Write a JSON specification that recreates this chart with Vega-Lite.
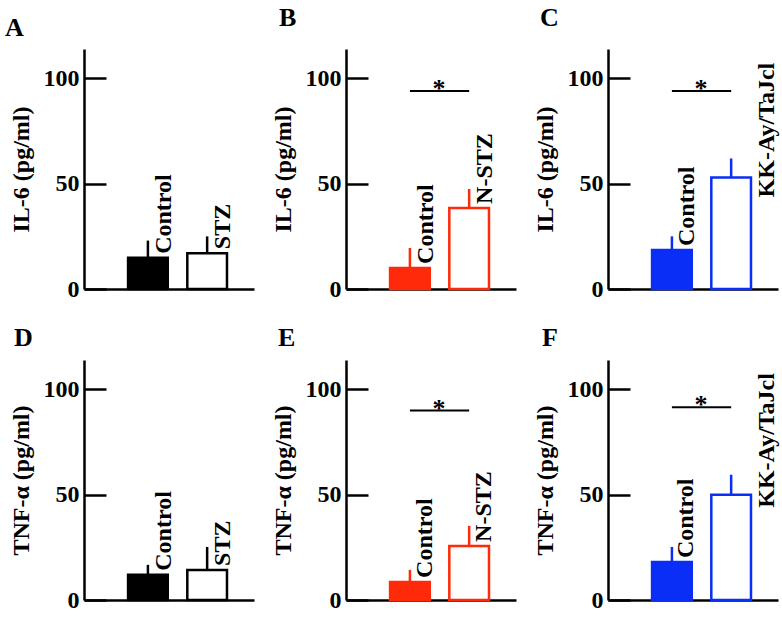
{
  "$schema": "https://vega.github.io/schema/vega-lite/v6.json",
  "padding": {"left": 5, "top": 5, "right": 5, "bottom": 5},
  "background": "white",
  "datasets": {
    "bars": [
      {"panel": "A", "group": "Control", "mean": 14.8, "hi": 23},
      {"panel": "A", "group": "STZ", "mean": 17, "hi": 25},
      {"panel": "B", "group": "Control", "mean": 10, "hi": 19.5},
      {"panel": "B", "group": "N-STZ", "mean": 38.5, "hi": 47.5},
      {"panel": "C", "group": "Control", "mean": 18.5, "hi": 25},
      {"panel": "C", "group": "KK-Ay/TaJcl", "mean": 53, "hi": 62},
      {"panel": "D", "group": "Control", "mean": 12, "hi": 16.7},
      {"panel": "D", "group": "STZ", "mean": 14.3, "hi": 25.2},
      {"panel": "E", "group": "Control", "mean": 8.6, "hi": 14.3},
      {"panel": "E", "group": "N-STZ", "mean": 25.7, "hi": 35.2},
      {"panel": "F", "group": "Control", "mean": 18, "hi": 25.2},
      {"panel": "F", "group": "KK-Ay/TaJcl", "mean": 50, "hi": 59.5}
    ],
    "sig": [
      {"panel": "B", "from": "Control", "to": "N-STZ", "y": 94},
      {"panel": "C", "from": "Control", "to": "KK-Ay/TaJcl", "y": 94},
      {"panel": "E", "from": "Control", "to": "N-STZ", "y": 90},
      {"panel": "F", "from": "Control", "to": "KK-Ay/TaJcl", "y": 91.5}
    ]
  },
  "columns": 3,
  "spacing": {"row": 71, "column": 92},
  "bounds": "flush",
  "concat": [
    {
      "width": 170, "height": 240,
      "title": {"text": "A", "anchor": "start", "frame": "group", "dx": -79, "dy": 29, "offset": 16, "baseline": "alphabetic"},
      "data": {"name": "bars"},
      "transform": [{"filter": "datum.panel === 'A'"}],
      "encoding": {
        "x": {"field": "group", "type": "nominal", "scale": {"domain": ["Control", "STZ"], "paddingInner": 0.33, "paddingOuter": 0.6, "align": 0.62}, "axis": {"title": null}},
        "y": {"field": "mean", "type": "quantitative", "scale": {"domain": [0, 114], "nice": false}, "axis": {"values": [0, 50, 100], "title": "IL-6 (pg/ml)"}}
      },
      "layer": [
        {"mark": {"type": "bar", "stroke": "#000000", "strokeWidth": 2.5}, "encoding": {"fill": {"condition": {"test": "datum.group === 'Control'", "value": "#000000"}, "value": "#ffffff"}}},
        {"mark": {"type": "rule", "color": "#000000", "strokeWidth": 2.5}, "encoding": {"y2": {"field": "hi"}}},
        {"mark": {"type": "text", "angle": 270, "align": "left", "baseline": "middle", "dx": 4, "dy": 16, "fontSize": 24, "fontWeight": "bold", "color": "#000000"}, "encoding": {"text": {"field": "group"}}}
      ]
    },
    {
      "width": 170, "height": 240,
      "title": {"text": "B", "anchor": "start", "frame": "group", "dx": -67, "dy": 29, "offset": 26, "baseline": "alphabetic"},
      "data": {"name": "bars"},
      "transform": [{"filter": "datum.panel === 'B'"}],
      "encoding": {
        "x": {"field": "group", "type": "nominal", "scale": {"domain": ["Control", "N-STZ"], "paddingInner": 0.33, "paddingOuter": 0.6, "align": 0.62}, "axis": {"title": null}},
        "y": {"field": "mean", "type": "quantitative", "scale": {"domain": [0, 114], "nice": false}, "axis": {"values": [0, 50, 100], "title": "IL-6 (pg/ml)"}}
      },
      "layer": [
        {"mark": {"type": "bar", "stroke": "#ff2a0a", "strokeWidth": 2.5}, "encoding": {"fill": {"condition": {"test": "datum.group === 'Control'", "value": "#ff2a0a"}, "value": "#ffffff"}}},
        {"mark": {"type": "rule", "color": "#ff2a0a", "strokeWidth": 2.5}, "encoding": {"y2": {"field": "hi"}}},
        {"mark": {"type": "text", "angle": 270, "align": "left", "baseline": "middle", "dx": 4, "dy": 16, "fontSize": 24, "fontWeight": "bold", "color": "#000000"}, "encoding": {"text": {"field": "group"}}},
        {
          "data": {"name": "sig"},
          "transform": [{"filter": "datum.panel === 'B'"}],
          "encoding": {
            "x": {"field": "from", "type": "nominal", "scale": {"domain": ["Control", "N-STZ"]}, "axis": {"title": null}},
            "y": {"field": "y", "type": "quantitative", "axis": {"values": [0, 50, 100], "title": "IL-6 (pg/ml)"}}
          },
          "layer": [
            {"mark": {"type": "rule", "color": "#000000", "strokeWidth": 2}, "encoding": {"x2": {"field": "to"}}},
            {"mark": {"type": "text", "text": "*", "fontSize": 26, "fontWeight": "bold", "dx": 29, "dy": 6, "baseline": "alphabetic", "color": "#000000"}}
          ]
        }
      ]
    },
    {
      "width": 170, "height": 240,
      "title": {"text": "C", "anchor": "start", "frame": "group", "dx": -68, "dy": 29, "offset": 26, "baseline": "alphabetic"},
      "data": {"name": "bars"},
      "transform": [{"filter": "datum.panel === 'C'"}],
      "encoding": {
        "x": {"field": "group", "type": "nominal", "scale": {"domain": ["Control", "KK-Ay/TaJcl"], "paddingInner": 0.33, "paddingOuter": 0.6, "align": 0.62}, "axis": {"title": null}},
        "y": {"field": "mean", "type": "quantitative", "scale": {"domain": [0, 114], "nice": false}, "axis": {"values": [0, 50, 100], "title": "IL-6 (pg/ml)"}}
      },
      "layer": [
        {"mark": {"type": "bar", "stroke": "#0a2ef5", "strokeWidth": 2.5}, "encoding": {"fill": {"condition": {"test": "datum.group === 'Control'", "value": "#0a2ef5"}, "value": "#ffffff"}}},
        {"mark": {"type": "rule", "color": "#0a2ef5", "strokeWidth": 2.5}, "encoding": {"y2": {"field": "hi"}}},
        {"transform": [{"filter": "datum.group === 'Control'"}], "mark": {"type": "text", "angle": 270, "align": "left", "baseline": "middle", "dx": 4, "dy": 15, "fontSize": 24, "fontWeight": "bold", "color": "#000000"}, "encoding": {"text": {"field": "group"}}},
        {"transform": [{"filter": "datum.group !== 'Control'"}], "mark": {"type": "text", "angle": 270, "align": "left", "baseline": "middle", "dx": -20, "dy": 36, "fontSize": 24, "fontWeight": "bold", "color": "#000000"}, "encoding": {"text": {"field": "group"}}},
        {
          "data": {"name": "sig"},
          "transform": [{"filter": "datum.panel === 'C'"}],
          "encoding": {
            "x": {"field": "from", "type": "nominal", "scale": {"domain": ["Control", "KK-Ay/TaJcl"]}, "axis": {"title": null}},
            "y": {"field": "y", "type": "quantitative", "axis": {"values": [0, 50, 100], "title": "IL-6 (pg/ml)"}}
          },
          "layer": [
            {"mark": {"type": "rule", "color": "#000000", "strokeWidth": 2}, "encoding": {"x2": {"field": "to"}}},
            {"mark": {"type": "text", "text": "*", "fontSize": 26, "fontWeight": "bold", "dx": 29, "dy": 6, "baseline": "alphabetic", "color": "#000000"}}
          ]
        }
      ]
    },
    {
      "width": 170, "height": 240,
      "title": {"text": "D", "anchor": "start", "frame": "group", "dx": -70, "dy": 29, "offset": 17, "baseline": "alphabetic"},
      "data": {"name": "bars"},
      "transform": [{"filter": "datum.panel === 'D'"}],
      "encoding": {
        "x": {"field": "group", "type": "nominal", "scale": {"domain": ["Control", "STZ"], "paddingInner": 0.33, "paddingOuter": 0.6, "align": 0.62}, "axis": {"title": null}},
        "y": {"field": "mean", "type": "quantitative", "scale": {"domain": [0, 114], "nice": false}, "axis": {"values": [0, 50, 100], "title": "TNF-α (pg/ml)"}}
      },
      "layer": [
        {"mark": {"type": "bar", "stroke": "#000000", "strokeWidth": 2.5}, "encoding": {"fill": {"condition": {"test": "datum.group === 'Control'", "value": "#000000"}, "value": "#ffffff"}}},
        {"mark": {"type": "rule", "color": "#000000", "strokeWidth": 2.5}, "encoding": {"y2": {"field": "hi"}}},
        {"mark": {"type": "text", "angle": 270, "align": "left", "baseline": "middle", "dx": 4, "dy": 16, "fontSize": 24, "fontWeight": "bold", "color": "#000000"}, "encoding": {"text": {"field": "group"}}}
      ]
    },
    {
      "width": 170, "height": 240,
      "title": {"text": "E", "anchor": "start", "frame": "group", "dx": -68, "dy": 29, "offset": 17, "baseline": "alphabetic"},
      "data": {"name": "bars"},
      "transform": [{"filter": "datum.panel === 'E'"}],
      "encoding": {
        "x": {"field": "group", "type": "nominal", "scale": {"domain": ["Control", "N-STZ"], "paddingInner": 0.33, "paddingOuter": 0.6, "align": 0.62}, "axis": {"title": null}},
        "y": {"field": "mean", "type": "quantitative", "scale": {"domain": [0, 114], "nice": false}, "axis": {"values": [0, 50, 100], "title": "TNF-α (pg/ml)"}}
      },
      "layer": [
        {"mark": {"type": "bar", "stroke": "#ff2a0a", "strokeWidth": 2.5}, "encoding": {"fill": {"condition": {"test": "datum.group === 'Control'", "value": "#ff2a0a"}, "value": "#ffffff"}}},
        {"mark": {"type": "rule", "color": "#ff2a0a", "strokeWidth": 2.5}, "encoding": {"y2": {"field": "hi"}}},
        {"mark": {"type": "text", "angle": 270, "align": "left", "baseline": "middle", "dx": 4, "dy": 15, "fontSize": 24, "fontWeight": "bold", "color": "#000000"}, "encoding": {"text": {"field": "group"}}},
        {
          "data": {"name": "sig"},
          "transform": [{"filter": "datum.panel === 'E'"}],
          "encoding": {
            "x": {"field": "from", "type": "nominal", "scale": {"domain": ["Control", "N-STZ"]}, "axis": {"title": null}},
            "y": {"field": "y", "type": "quantitative", "axis": {"values": [0, 50, 100], "title": "TNF-α (pg/ml)"}}
          },
          "layer": [
            {"mark": {"type": "rule", "color": "#000000", "strokeWidth": 2}, "encoding": {"x2": {"field": "to"}}},
            {"mark": {"type": "text", "text": "*", "fontSize": 26, "fontWeight": "bold", "dx": 29, "dy": 6, "baseline": "alphabetic", "color": "#000000"}}
          ]
        }
      ]
    },
    {
      "width": 170, "height": 240,
      "title": {"text": "F", "anchor": "start", "frame": "group", "dx": -66, "dy": 29, "offset": 17, "baseline": "alphabetic"},
      "data": {"name": "bars"},
      "transform": [{"filter": "datum.panel === 'F'"}],
      "encoding": {
        "x": {"field": "group", "type": "nominal", "scale": {"domain": ["Control", "KK-Ay/TaJcl"], "paddingInner": 0.33, "paddingOuter": 0.6, "align": 0.62}, "axis": {"title": null}},
        "y": {"field": "mean", "type": "quantitative", "scale": {"domain": [0, 114], "nice": false}, "axis": {"values": [0, 50, 100], "title": "TNF-α (pg/ml)"}}
      },
      "layer": [
        {"mark": {"type": "bar", "stroke": "#0a2ef5", "strokeWidth": 2.5}, "encoding": {"fill": {"condition": {"test": "datum.group === 'Control'", "value": "#0a2ef5"}, "value": "#ffffff"}}},
        {"mark": {"type": "rule", "color": "#0a2ef5", "strokeWidth": 2.5}, "encoding": {"y2": {"field": "hi"}}},
        {"transform": [{"filter": "datum.group === 'Control'"}], "mark": {"type": "text", "angle": 270, "align": "left", "baseline": "middle", "dx": 4, "dy": 14, "fontSize": 24, "fontWeight": "bold", "color": "#000000"}, "encoding": {"text": {"field": "group"}}},
        {"transform": [{"filter": "datum.group !== 'Control'"}], "mark": {"type": "text", "angle": 270, "align": "left", "baseline": "middle", "dx": -13, "dy": 36, "fontSize": 24, "fontWeight": "bold", "color": "#000000"}, "encoding": {"text": {"field": "group"}}},
        {
          "data": {"name": "sig"},
          "transform": [{"filter": "datum.panel === 'F'"}],
          "encoding": {
            "x": {"field": "from", "type": "nominal", "scale": {"domain": ["Control", "KK-Ay/TaJcl"]}, "axis": {"title": null}},
            "y": {"field": "y", "type": "quantitative", "axis": {"values": [0, 50, 100], "title": "TNF-α (pg/ml)"}}
          },
          "layer": [
            {"mark": {"type": "rule", "color": "#000000", "strokeWidth": 2}, "encoding": {"x2": {"field": "to"}}},
            {"mark": {"type": "text", "text": "*", "fontSize": 26, "fontWeight": "bold", "dx": 29, "dy": 6, "baseline": "alphabetic", "color": "#000000"}}
          ]
        }
      ]
    }
  ],
  "config": {
    "font": "Liberation Serif",
    "view": {"stroke": null},
    "title": {"font": "Liberation Serif", "fontSize": 26, "fontWeight": "bold", "color": "#000000"},
    "text": {"font": "Liberation Serif"},
    "axis": {
      "grid": false,
      "domainColor": "#000000", "domainWidth": 2.5,
      "tickColor": "#000000", "tickWidth": 2.5,
      "labelFont": "Liberation Serif", "labelFontSize": 24, "labelFontWeight": "bold", "labelColor": "#000000",
      "titleFont": "Liberation Serif", "titleFontSize": 24, "titleFontWeight": "bold", "titleColor": "#000000"
    },
    "axisY": {"tickSize": -22, "labelPadding": 27, "titlePadding": 10},
    "axisX": {"ticks": false, "labels": false}
  }
}
